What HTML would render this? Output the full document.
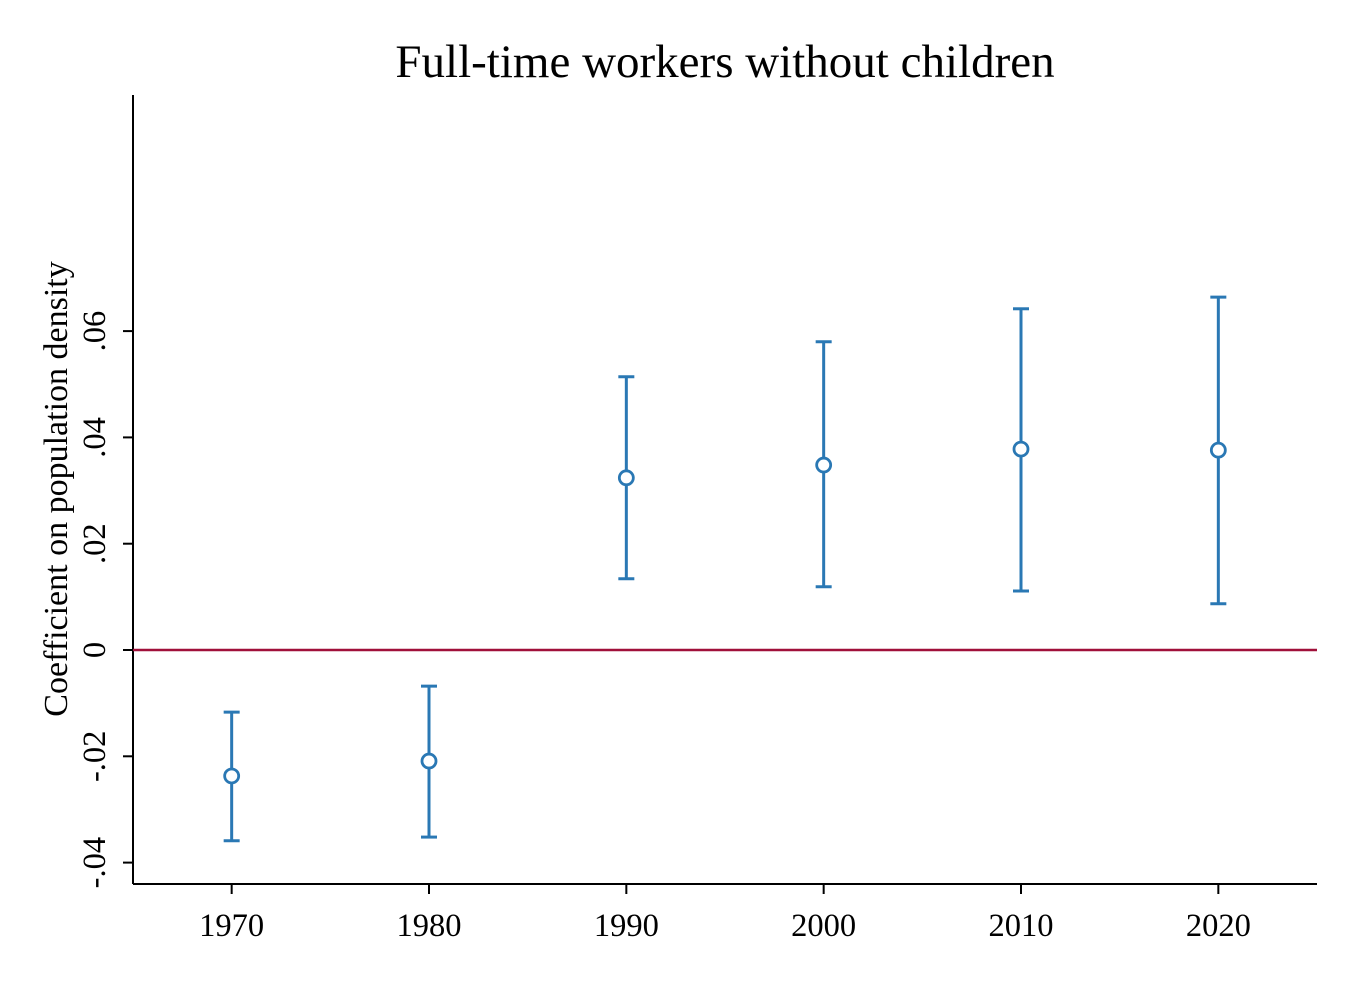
<!DOCTYPE html>
<html><head><meta charset="utf-8"><style>
html,body{margin:0;padding:0;background:#fff;}
svg{display:block;font-family:"Liberation Serif",serif;}
</style></head><body>
<svg id="chart" width="1353" height="984" viewBox="0 0 1353 984">
<rect width="1353" height="984" fill="#fff"/>
<text x="725" y="77" text-anchor="middle" font-size="47" fill="#000">Full-time workers without children</text>
<g id="plot"></g>
</svg>
<script>
const years = [1970, 1980, 1990, 2000, 2010, 2020];
const coef = [-0.0237, -0.0209, 0.0324, 0.0348, 0.0378, 0.0376];
const ciHigh = [-0.0117, -0.0068, 0.0514, 0.0580, 0.0642, 0.0664];
const ciLow = [-0.0359, -0.0352, 0.0134, 0.0119, 0.0111, 0.0087];
const yTicks = [-0.04, -0.02, 0, 0.02, 0.04, 0.06];
const yTickLabels = ["-.04", "-.02", "0", ".02", ".04", ".06"];
const xTicks = [1970, 1980, 1990, 2000, 2010, 2020];

const NS = "http://www.w3.org/2000/svg";
const g = document.getElementById('plot');
const L = 133, R = 1317, T = 95, B = 884;
const xMin = 1965, xMax = 2025;
const y0px = 650, pxPerUnit = 5315;
const xs = v => L + (v - xMin) / (xMax - xMin) * (R - L);
const ys = v => y0px - v * pxPerUnit;
function mk(tag, attrs) { const e = document.createElementNS(NS, tag); for (const k in attrs) e.setAttribute(k, attrs[k]); g.appendChild(e); return e; }

let e = mk('line', {x1: L, y1: T, x2: L, y2: B, stroke: '#000', 'stroke-width': 2});


e = mk('line', {x1: L, y1: B, x2: R, y2: B, stroke: '#000', 'stroke-width': 2});



yTicks.forEach((t, i) => {
  const y = ys(t);
  let tk = mk('line', {x1: L - 10, y1: y, x2: L, y2: y, stroke: '#000', 'stroke-width': 2});
  
  
  let tx = mk('text', {x: 0, y: 0, 'font-size': 32.5, 'text-anchor': 'middle', transform: `translate(105,${y}) rotate(-90)`});
  tx.textContent = yTickLabels[i];
  
  
});
xTicks.forEach(t => {
  const x = xs(t);
  let tk = mk('line', {x1: x, y1: B, x2: x, y2: B + 10, stroke: '#000', 'stroke-width': 2});
  
  
  let tx = mk('text', {x: x, y: 936, 'font-size': 32.5, 'text-anchor': 'middle'});
  tx.textContent = t;
  
  
});
let yt = mk('text', {x: 0, y: 0, 'font-size': 34, 'text-anchor': 'middle', transform: `translate(67,489) rotate(-90)`});
yt.textContent = 'Coefficient on population density';



let zl = mk('line', {x1: L, y1: ys(0), x2: R, y2: ys(0), stroke: '#a0103a', 'stroke-width': 2.5});



const col = '#2a78b4';
years.forEach((yr, i) => {
  const x = xs(yr), yh = ys(ciHigh[i]), yl = ys(ciLow[i]);
  let v = mk('line', {x1: x, y1: yh, x2: x, y2: yl, stroke: col, 'stroke-width': 3});
  
  
  let c1 = mk('line', {x1: x - 8, y1: yh, x2: x + 8, y2: yh, stroke: col, 'stroke-width': 3});
  
  
  let c2 = mk('line', {x1: x - 8, y1: yl, x2: x + 8, y2: yl, stroke: col, 'stroke-width': 3});
  
  
  let p = mk('circle', {cx: x, cy: ys(coef[i]), r: 7, fill: '#fff', stroke: col, 'stroke-width': 2.8});
  
  
});
</script>
</body></html>
